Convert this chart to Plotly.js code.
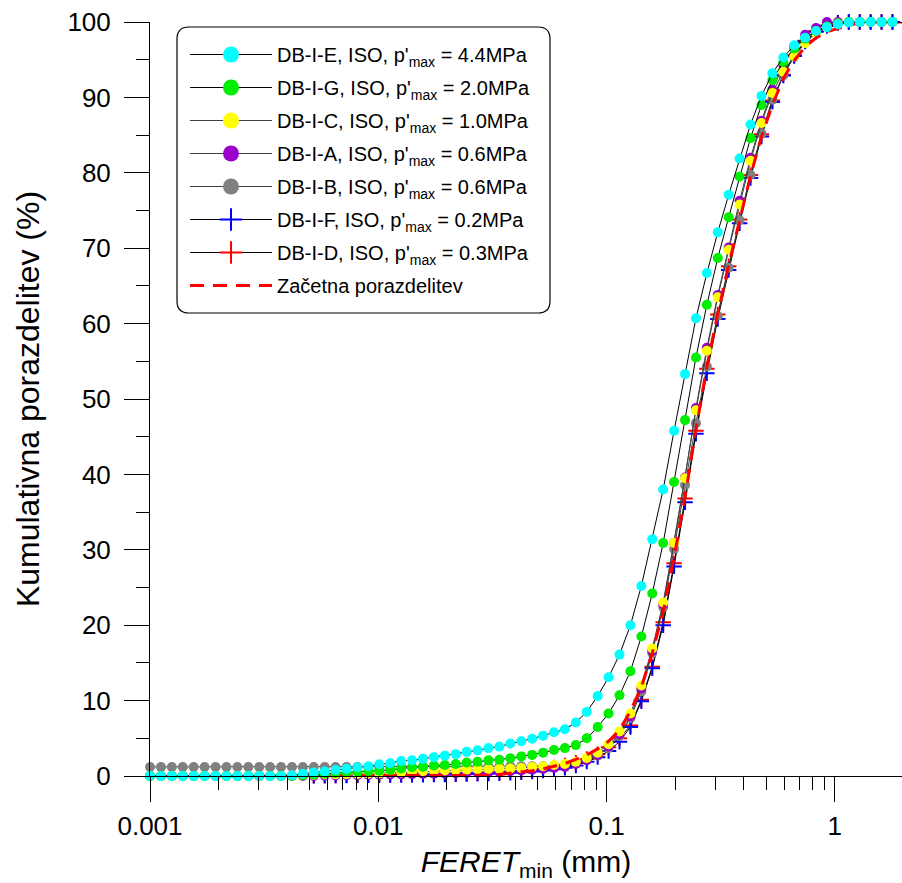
<!DOCTYPE html>
<html><head><meta charset="utf-8">
<script src="https://cdn.plot.ly/plotly-3.0.1.min.js"></script>
<style>body{margin:0;background:#fff}</style>
</head><body><div id="chart" style="width:902px;height:883px"></div>
<script>
// FERET_min size grid (mm)
const feretMm = [0.001,0.001117,0.001247,0.001392,0.001554,0.001735,0.001937,0.002163,0.002415,0.002696,
0.003009,0.003359,0.003750,0.004187,0.004674,0.005218,0.005826,0.006504,0.007262,0.008107,
0.009051,0.01010,0.01128,0.01260,0.01406,0.01570,0.01753,0.01957,0.02185,0.02439,
0.02723,0.03040,0.03394,0.03789,0.04231,0.04723,0.05273,0.05887,0.06572,0.07338,
0.08192,0.09146,0.1021,0.1140,0.1273,0.1421,0.1586,0.1771,0.1977,0.2208,
0.2465,0.2752,0.3072,0.3430,0.3829,0.4275,0.4773,0.5328,0.5949,0.6641,
0.7415,0.8278,0.9242,1.0318,1.152,1.286,1.436,1.603,1.790,2.000];

const dbIE = [0,0,0,0,0,0,0,0,0,0, 0,0,0,0.1,0.3,0.45,0.6,0.8,0.95,1.15,
1.3,1.55,1.7,2.0,2.1,2.3,2.5,2.7,2.9,3.2, 3.4,3.7,3.9,4.3,4.6,4.95,5.35,5.8,6.2,7.1,
8.5,10.6,13.1,16.1,20.0,25.2,31.4,38.0,45.8,53.3, 60.7,66.7,72.1,77.1,81.9,86.4,90.2,93.2,95.3,96.9,
97.9,98.8,99.3,99.7,99.95,100,100,100,100,100];

const dbIG = [0,0,0,0,0,0,0,0,0,0, 0,0,0,0,0.1,0.2,0.3,0.4,0.5,0.55,
0.65,0.7,0.8,1.0,1.15,1.2,1.4,1.46,1.6,1.8, 1.9,2.1,2.15,2.35,2.6,2.8,3.1,3.45,3.7,4.1,
5.0,6.5,8.3,10.7,13.9,18.5,24.2,30.9,39.0,47.2, 55.5,62.5,68.7,74.1,79.5,84.6,89.0,92.3,94.7,96.5,
97.8,98.8,99.4,99.8,100,100,100,100,100,100];

const dbIC = [0,0,0,0,0,0,0,0,0,0, 0,0,0,0.05,0.1,0.15,0.2,0.22,0.25,0.28,
0.3,0.35,0.45,0.48,0.57,0.65,0.7,0.72,0.8,0.85, 0.9,0.93,0.97,1.0,1.06,1.2,1.3,1.46,1.6,1.9,
2.4,3.1,4.2,5.9,8.3,12.0,16.9,23.0,30.9,39.5, 48.5,56.4,63.5,69.8,75.8,81.6,86.6,90.6,93.4,95.5,
97.2,98.5,99.3,99.8,100,100,100,100,100,100];

const dbIA = [0,0,0,0,0,0,0,0,0,0, 0,0,0,0,0,0,0.05,0.08,0.1,0.12,
0.15,0.18,0.2,0.22,0.25,0.28,0.3,0.33,0.36,0.4, 0.45,0.5,0.55,0.65,0.75,0.85,0.93,1.06,1.2,1.6,
2.1,2.8,3.9,5.5,7.9,11.6,16.6,22.8,30.9,39.6, 48.8,56.8,63.8,70.1,76.3,82.0,86.9,91.0,94.3,96.7,
98.3,99.2,100,100,100,100,100,100,100,100];

const dbIB = [1.2,1.2,1.2,1.2,1.2,1.2,1.2,1.2,1.2,1.2, 1.2,1.2,1.2,1.2,1.2,1.2,1.2,1.2,1.2,1.2,
1.2,1.2,1.2,1.2,1.2,1.25,1.25,1.25,1.25,1.25, 1.25,1.25,1.25,1.3,1.3,1.3,1.3,1.35,1.45,1.7,
2.1,2.7,3.7,5.3,7.7,11.2,16.3,22.4,30.1,38.6, 46.8,54.3,61.0,67.4,73.7,79.7,85.2,89.7,92.9,95.4,
97.3,98.6,99.4,99.8,100,100,100,100,100,100];

const dbIF = [null,null,null,null,null,null,null,null,null,null, null,null,null,null,null,0.02,0.05,0.05,0.07,0.08,
0.1,0.1,0.12,0.14,0.15,0.17,0.18,0.2,0.22,0.25, 0.28,0.32,0.37,0.43,0.5,0.6,0.72,0.88,1.1,1.4,
1.9,2.5,3.3,4.55,6.5,9.9,14.3,20.0,27.8,36.3, 45.4,53.4,60.6,67.1,73.3,79.3,84.8,89.4,92.9,95.5,
97.4,98.7,99.5,99.9,100,100,100,100,100,100];

const dbID = [null,null,null,null,null,null,null,null,null,null, null,null,null,null,null,0.02,0.04,0.06,0.08,0.1,
0.12,0.14,0.16,0.18,0.2,0.22,0.24,0.27,0.3,0.33, 0.37,0.42,0.48,0.55,0.65,0.78,0.95,1.15,1.4,1.75,
2.25,2.9,3.8,5.0,6.7,10.1,14.5,20.4,28.2,36.8, 45.8,54.0,61.2,67.6,73.8,79.7,85.1,89.6,93.0,95.6,
97.5,98.8,99.5,99.9,100,100,100,100,100,100];

const initial = [null,null,null,null,null,null,null,null,null,null, null,null,null,null,null,0,0,0,0,0,
0,0,0,0,0,0,0,0,0,0, 0,0.1,0.2,0.35,0.5,0.7,0.95,1.25,1.65,2.2,
2.8,3.6,4.6,6.1,8.6,11.8,16.3,21.8,29.0,37.0, 46.0,54.3,61.3,67.8,73.9,79.6,84.8,89.0,92.5,94.9,
96.7,97.9,98.7,99.2,99.6,99.85,100,100,100,100];

const legendNames = [
  "DB-I-E, ISO, p'<sub>max</sub> = 4.4MPa",
  "DB-I-G, ISO, p'<sub>max</sub> = 2.0MPa",
  "DB-I-C, ISO, p'<sub>max</sub> = 1.0MPa",
  "DB-I-A, ISO, p'<sub>max</sub> = 0.6MPa",
  "DB-I-B, ISO, p'<sub>max</sub> = 0.6MPa",
  "DB-I-F, ISO, p'<sub>max</sub> = 0.2MPa",
  "DB-I-D, ISO, p'<sub>max</sub> = 0.3MPa",
  "Začetna porazdelitev"
];
const xTickVals = [0.001, 0.01, 0.1, 1];
const xTickText = ['0.001', '0.01', '0.1', '1'];

const FONT = 'Liberation Sans, Arial, sans-serif';

// style per series (legend order)
const styles = [
  {data: dbIE, color: '#00ffff', sym: 'circle', line: '#000000'},
  {data: dbIG, color: '#00ee00', sym: 'circle', line: '#000000'},
  {data: dbIC, color: '#ffff00', sym: 'circle', line: '#404040'},
  {data: dbIA, color: '#9900cc', sym: 'circle', line: '#404040'},
  {data: dbIB, color: '#808080', sym: 'circle', line: '#404040'},
  {data: dbIF, color: '#0000ff', sym: 'cross', line: '#000000'},
  {data: dbID, color: '#ff0000', sym: 'cross', line: '#000000'},
  {data: initial, color: '#ff0000', sym: 'dash', line: '#ff0000'}
];

function markerFor(s, size) {
  if (s.sym === 'cross') {
    return {symbol: 'cross-thin', size: size, color: s.color, line: {color: s.color, width: 2}};
  }
  return {symbol: 'circle', size: size, color: s.color, line: {width: 0}};
}

const traces = [];
// legend entries (empty traces, larger legend symbols)
styles.forEach((s, k) => {
  if (s.sym === 'dash') {
    traces.push({x: [null], y: [null], type: 'scatter', mode: 'lines', name: legendNames[k],
      legendgroup: 'g' + k, line: {color: s.color, width: 3, dash: '14px,9px'}, hoverinfo: 'skip'});
  } else {
    traces.push({x: [null], y: [null], type: 'scatter', mode: 'lines+markers', name: legendNames[k],
      legendgroup: 'g' + k, line: {color: s.line, width: 1}, marker: markerFor(s, 16), hoverinfo: 'skip'});
  }
});
// plotted series, drawing order
const drawOrder = [6, 5, 4, 3, 2, 7, 1, 0];
drawOrder.forEach(k => {
  const s = styles[k];
  if (s.sym === 'dash') {
    traces.push({x: feretMm, y: s.data, type: 'scatter', mode: 'lines', showlegend: false,
      line: {color: s.color, width: 3, dash: '14px,9px'}, cliponaxis: false});
  } else {
    traces.push({x: feretMm, y: s.data, type: 'scatter', mode: 'lines+markers', showlegend: false,
      line: {color: s.line, width: 1}, marker: markerFor(s, s.sym === 'cross' ? 11 : 10), cliponaxis: false});
  }
});

// rounded legend frame (pixel box converted to paper coordinates)
const plotL = 150, plotT = 22, plotW = 752, plotH = 754;
const bx0 = 177, by0 = 27, bx1 = 550, by1 = 313, rad = 12;
const px = v => (v - plotL) / plotW;
const py = v => (plotT + plotH - v) / plotH;
const framePath = [
  'M', px(bx0 + rad), py(by0), 'L', px(bx1 - rad), py(by0),
  'Q', px(bx1), py(by0), px(bx1), py(by0 + rad),
  'L', px(bx1), py(by1 - rad),
  'Q', px(bx1), py(by1), px(bx1 - rad), py(by1),
  'L', px(bx0 + rad), py(by1),
  'Q', px(bx0), py(by1), px(bx0), py(by1 - rad),
  'L', px(bx0), py(by0 + rad),
  'Q', px(bx0), py(by0), px(bx0 + rad), py(by0), 'Z'
].join(' ');

const layout = {
  width: 902, height: 883,
  margin: {l: plotL, r: 0, t: plotT, b: 883 - plotT - plotH},
  paper_bgcolor: '#ffffff', plot_bgcolor: '#ffffff',
  font: {family: FONT, color: '#000000', size: 20},
  showlegend: true,
  legend: {
    x: px(bx0 + 8), y: py(by0 + 8), xanchor: 'left', yanchor: 'top',
    bgcolor: 'rgba(0,0,0,0)', borderwidth: 0,
    font: {family: FONT, size: 20, color: '#000000'},
    tracegroupgap: 4, itemwidth: 82, itemsizing: 'trace', traceorder: 'grouped'
  },
  xaxis: {
    type: 'log', range: [-3, 0.2945],
    tickmode: 'array', tickvals: xTickVals, ticktext: xTickText,
    ticks: 'outside', ticklen: 25, tickwidth: 1, tickcolor: '#000',
    ticklabelstandoff: 2,
    minor: {tickmode: 'array',
      tickvals: [0.002,0.003,0.004,0.005,0.006,0.007,0.008,0.009,0.02,0.03,0.04,0.05,0.06,0.07,0.08,0.09,
                 0.2,0.3,0.4,0.5,0.6,0.7,0.8,0.9],
      ticks: 'outside', ticklen: 13, tickwidth: 1, tickcolor: '#000', showgrid: false},
    showline: true, linecolor: '#000', linewidth: 1, showgrid: false, zeroline: false,
    tickfont: {family: FONT, size: 26, color: '#000'},
    title: {text: '<i>FERET</i><sub>min</sub> (mm)', font: {family: FONT, size: 30, color: '#000'}, standoff: 10}
  },
  yaxis: {
    range: [0, 100], dtick: 10, tick0: 0,
    ticks: 'outside', ticklen: 25, tickwidth: 1, tickcolor: '#000',
    ticklabelstandoff: 8,
    minor: {dtick: 5, ticks: 'outside', ticklen: 13, tickwidth: 1, tickcolor: '#000', showgrid: false},
    showline: true, linecolor: '#000', linewidth: 1, showgrid: false, zeroline: false,
    tickfont: {family: FONT, size: 26, color: '#000'},
    title: {text: 'Kumulativna porazdelitev (%)', font: {family: FONT, size: 32, color: '#000'}, standoff: 18}
  },
  shapes: [{type: 'path', xref: 'paper', yref: 'paper', path: framePath,
    line: {color: '#000000', width: 1.2}, fillcolor: '#ffffff', layer: 'below'}]
};

Plotly.newPlot('chart', traces, layout, {displayModeBar: false, staticPlot: true});
</script>
</body></html>
